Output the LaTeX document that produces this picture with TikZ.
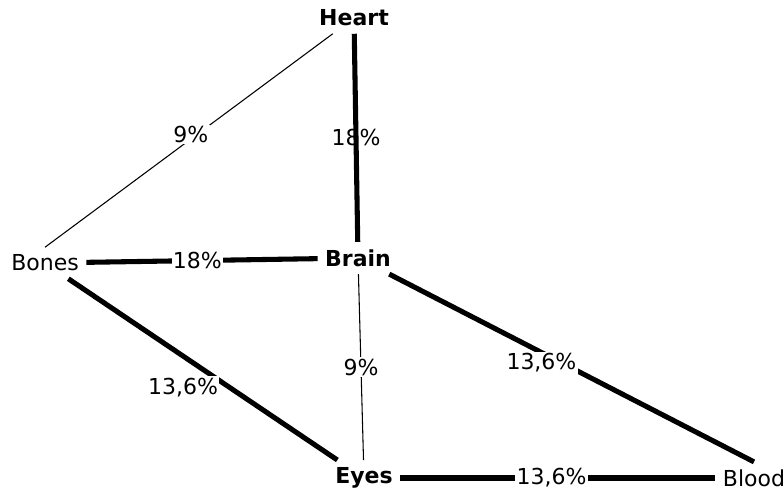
\documentclass[tikz,border=0pt]{standalone}
\usepackage{fontspec}
\setmainfont{DejaVu Sans}
\usetikzlibrary{positioning}

\tikzset{
  organ/.style={inner sep=5.5pt,font=\fontsize{16.5}{19}\selectfont},
  keyorgan/.style={organ,font=\fontsize{16.5}{19}\selectfont\bfseries},
  strong/.style={line width=3.8pt},
  weak/.style={line width=0.8pt},
  share/.style={fill=white,inner sep=1pt,font=\fontsize{16.5}{19}\selectfont},
}

\begin{document}
\begin{tikzpicture}[x=0.75pt,y=-0.75pt]
        \useasboundingbox (0,0) rectangle (784,492);
        \node[keyorgan] (heart) at (354,18) {Heart};
        \node[keyorgan] (brain) at (358,258) {Brain};
        \node[organ] (bones) at (45,263) {Bones};
        \node[keyorgan] (eyes) at (364,478) {Eyes};
        \node[organ] (blood) at (754,478) {Blood};
        \draw[weak] (heart) -- node[share,pos=.5,shift={(2,-6)}]{9\%} (bones.north);
        \draw[strong] (heart) -- node[share,fill=none,pos=.5]{18\%} (brain);
        \draw[strong] (bones) -- node[share,pos=.48]{18\%} (brain);
        \draw[strong] (bones) -- node[share,pos=.46,shift={(-9,25)}]{13,6\%} (eyes);
        \draw[weak] (brain) -- node[share,pos=.5]{9\%} (eyes);
        \draw[strong] (brain) -- node[share,pos=.42,shift={(-1,10)}]{13,6\%} (blood.north);
        \draw[strong] (eyes) -- node[share,pos=.48]{13,6\%} (blood);
      \end{tikzpicture}
\end{document}
